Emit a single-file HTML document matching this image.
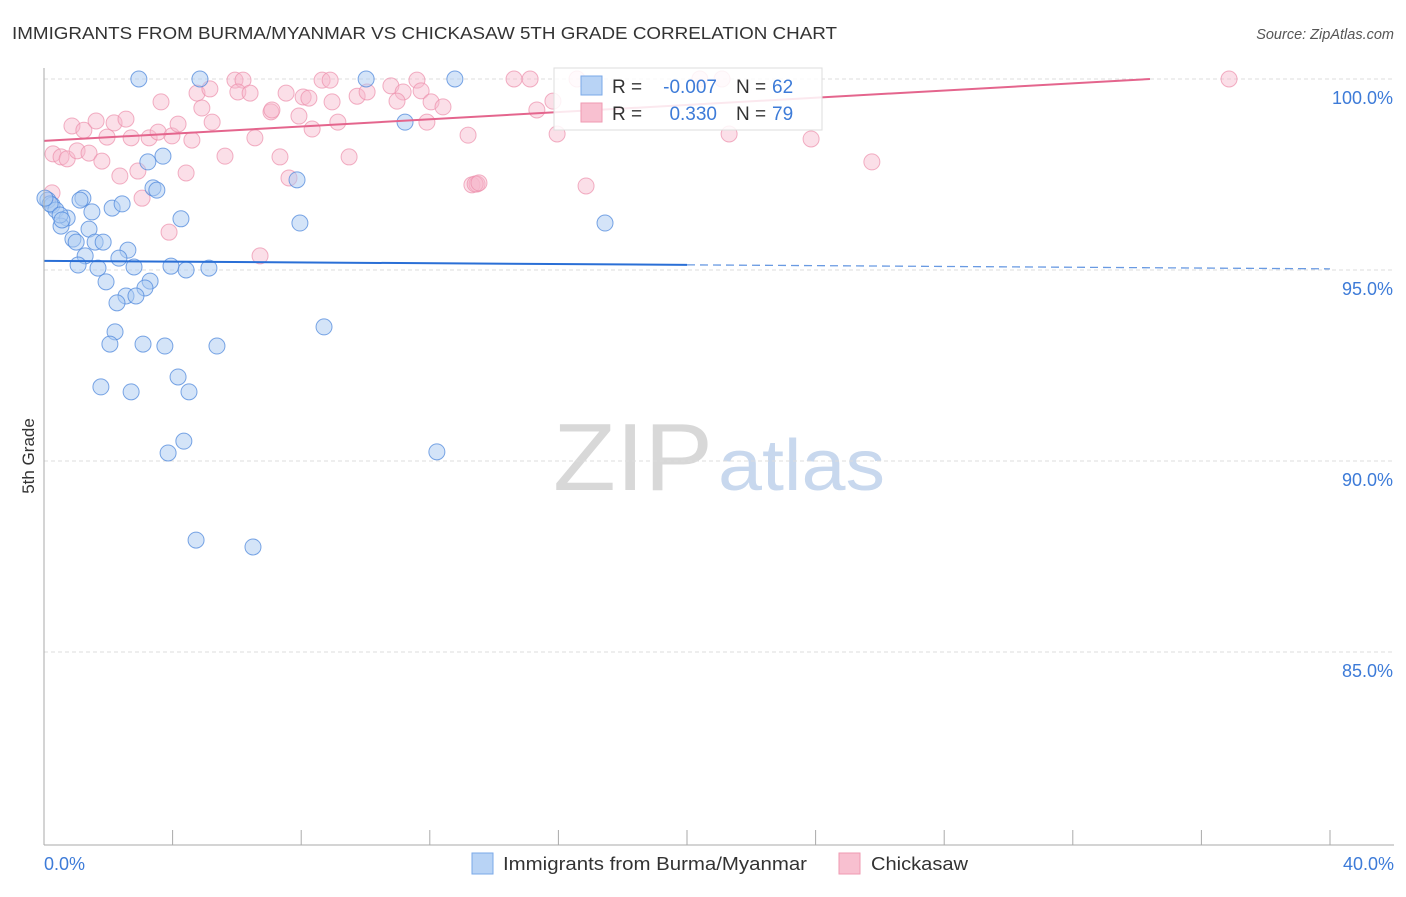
<!DOCTYPE html>
<html><head><meta charset="utf-8"><style>
body{margin:0;background:#fff;font-family:"Liberation Sans",sans-serif}
svg text{font-family:"Liberation Sans",sans-serif}
</style></head><body>
<svg id="c" width="1406" height="892">
<text x="12" y="39" font-size="17.5" fill="#333" textLength="825" lengthAdjust="spacingAndGlyphs">IMMIGRANTS FROM BURMA/MYANMAR VS CHICKASAW 5TH GRADE CORRELATION CHART</text>
<text x="1394" y="39" font-size="14.5" fill="#555" font-style="italic" text-anchor="end">Source: ZipAtlas.com</text>
<text x="34" y="456" font-size="17" fill="#333" text-anchor="middle" transform="rotate(-90 34 456)">5th Grade</text>
<text x="553" y="490" font-size="96" fill="#d8d8d8" font-family="Liberation Serif" textLength="160" lengthAdjust="spacingAndGlyphs">ZIP</text>
<text x="718" y="490" font-size="72" fill="#c8d8ee" textLength="167" lengthAdjust="spacingAndGlyphs">atlas</text>
<g id="grid"></g><g id="pts"></g><g id="lines"></g>
<line x1="44" y1="68" x2="44" y2="845" stroke="#aaa"/>
<line x1="44" y1="845" x2="1394" y2="845" stroke="#aaa"/>
<text x="44" y="870" font-size="18" fill="#3d7bd8">0.0%</text>
<text x="1394" y="870" font-size="18" fill="#3d7bd8" text-anchor="end">40.0%</text>
<g>
<rect x="554" y="68" width="268" height="62" fill="#fff" fill-opacity="0.85" stroke="#ddd"/>
<rect x="581" y="76" width="21" height="19" fill="#b8d3f5" stroke="#7aa8e8"/>
<rect x="581" y="103" width="21" height="19" fill="#f8c0d0" stroke="#ef9ab2"/>
<text x="612" y="93" font-size="19" fill="#333">R =</text>
<text x="717" y="93" font-size="19" fill="#3d7bd8" text-anchor="end">-0.007</text>
<text x="736" y="93" font-size="19" fill="#333">N =</text>
<text x="772" y="93" font-size="19" fill="#3d7bd8">62</text>
<text x="612" y="120" font-size="19" fill="#333">R =</text>
<text x="717" y="120" font-size="19" fill="#3d7bd8" text-anchor="end">0.330</text>
<text x="736" y="120" font-size="19" fill="#333">N =</text>
<text x="772" y="120" font-size="19" fill="#3d7bd8">79</text>
</g>
<g>
<rect x="472" y="853" width="21" height="21" fill="#b8d3f5" stroke="#7aa8e8"/>
<text x="503" y="870" font-size="18" fill="#333" textLength="304" lengthAdjust="spacingAndGlyphs">Immigrants from Burma/Myanmar</text>
<rect x="839" y="853" width="21" height="21" fill="#f8c0d0" stroke="#ef9ab2"/>
<text x="871" y="870" font-size="18" fill="#333" textLength="97" lengthAdjust="spacingAndGlyphs">Chickasaw</text>
</g>
</svg>
<script>
const yTicks=[100,95,90,85];
const xTicks=[0,4,8,12,16,20,24,28,32,36,40];
const bluePx=[[139,79],[200,79],[366,79],[455,79],[405,122],[163,156],[148,162],[153,188],[157,190],[297,180],[83,198],[80,200],[48,200],[52,205],[56,210],[92,212],[112,208],[122,204],[67,218],[61,226],[89,229],[181,219],[300,223],[605,223],[73,239],[76,242],[95,242],[103,242],[128,250],[119,258],[85,256],[78,265],[98,268],[134,267],[171,266],[186,270],[209,268],[106,282],[150,281],[145,288],[126,296],[136,296],[117,303],[115,332],[110,344],[143,344],[165,346],[217,346],[324,327],[101,387],[131,392],[178,377],[189,392],[184,441],[168,453],[437,452],[196,540],[253,547],[50,204],[45,198],[60,215],[62,220]];
const pinkPx=[[235,80],[243,80],[322,80],[330,80],[417,80],[197,93],[210,89],[238,92],[250,93],[286,93],[303,97],[309,98],[332,102],[357,96],[367,92],[391,86],[403,92],[397,101],[421,91],[431,102],[443,107],[161,102],[202,108],[212,122],[271,112],[272,110],[299,116],[312,129],[338,122],[427,122],[468,135],[255,138],[225,156],[280,157],[349,157],[72,126],[84,130],[96,121],[114,123],[126,119],[107,137],[131,138],[149,138],[158,132],[172,136],[178,124],[192,140],[53,154],[61,157],[67,159],[77,151],[89,153],[102,161],[120,176],[138,171],[186,173],[289,178],[142,198],[169,232],[260,256],[472,185],[477,184],[52,193],[1229,79],[811,139],[872,162],[729,134],[586,186],[557,134],[553,101],[537,110],[514,79],[530,79],[577,79],[700,79],[722,79],[475,184],[479,183]];
const blueX=bluePx.map(p=>+((p[0]-44)*40/1286).toFixed(2));
const blueY=bluePx.map(p=>+(100-(p[1]-79)*5/191).toFixed(2));
const pinkX=pinkPx.map(p=>+((p[0]-44)*40/1286).toFixed(2));
const pinkY=pinkPx.map(p=>+(100-(p[1]-79)*5/191).toFixed(2));
const blueTrend=[95.24,95.03];
const pinkTrend=[98.38,100];
const pinkTrendEndX=34.4;
const sx=v=>44+v/40*1286, sy=v=>79+(100-v)/5*191;
const NS='http://www.w3.org/2000/svg';
function mk(t,a,par){const e=document.createElementNS(NS,t);for(const k in a)e.setAttribute(k,a[k]);document.getElementById(par).appendChild(e);return e;}
yTicks.forEach(v=>{
 const l=mk('line',{x1:44,x2:1394,y1:sy(v),y2:sy(v),stroke:'#ddd','stroke-dasharray':'4 3'},'grid');
 
 
 const t=mk('text',{x:1393,y:sy(v)+25,'font-size':18,fill:'#3d7bd8','text-anchor':'end'},'grid');
 t.textContent=v.toFixed(1)+'%';
 
 
});
xTicks.forEach(v=>{
 const l=mk('line',{x1:sx(v),x2:sx(v),y1:830,y2:845,stroke:'#aaa'},'grid');
 
 
});
pinkX.forEach((x,i)=>{
 const c=mk('circle',{cx:sx(x),cy:sy(pinkY[i]),r:8,fill:'#f6b8cb','fill-opacity':0.45,stroke:'#ec8fab','stroke-opacity':0.7},'pts');
 
 
});
blueX.forEach((x,i)=>{
 const c=mk('circle',{cx:sx(x),cy:sy(blueY[i]),r:8,fill:'#a9c9f2','fill-opacity':0.5,stroke:'#4f88dc','stroke-opacity':0.75},'pts');
 
 
});
const by=x=>blueTrend[0]+(blueTrend[1]-blueTrend[0])*x/40;
let l1=mk('line',{x1:sx(0),y1:sy(by(0)),x2:sx(20),y2:sy(by(20)),stroke:'#2a6fd6','stroke-width':2},'lines');


let l2=mk('line',{x1:sx(20),y1:sy(by(20)),x2:sx(40),y2:sy(by(40)),stroke:'#2a6fd6','stroke-width':1.3,'stroke-dasharray':'8 5','stroke-opacity':0.7},'lines');


let l3=mk('line',{x1:sx(0),y1:sy(pinkTrend[0]),x2:sx(pinkTrendEndX),y2:sy(pinkTrend[1]),stroke:'#e4658d','stroke-width':2},'lines');


</script>
</body></html>
